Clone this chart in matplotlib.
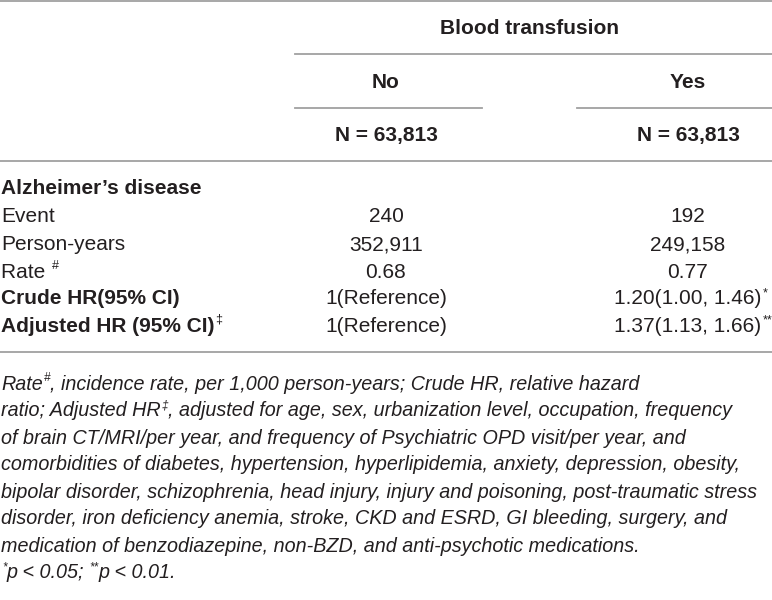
import matplotlib
matplotlib.use("Agg")
import matplotlib.pyplot as plt
from matplotlib.lines import Line2D

W, H = 772, 600
FONT = ["Liberation Sans Narrow", "Liberation Sans", "DejaVu Sans"]
TXT = "#231f20"
RULE = "#a0a0a0"

group_title = "Blood transfusion"
col_names = ["No", "Yes"]
col_n = ["N = 63,813", "N = 63,813"]
section = "Alzheimer\u2019s disease"
row_labels = ["Event", "Person-years", "Rate", "Crude HR(95% CI)", "Adjusted HR (95% CI)"]
row_sups = ["", "", "#", "", "\u2021"]
row_bold = [False, False, False, True, True]
no_values = ["240", "352,911", "0.68", "1(Reference)", "1(Reference)"]
yes_values = ["192", "249,158", "0.77", "1.20(1.00, 1.46)", "1.37(1.13, 1.66)"]
yes_sups = ["", "", "", "*", "**"]

footnote = [
    ("Rate", "#", ", incidence rate, per 1,000 person-years; Crude HR, relative hazard"),
    ("ratio; Adjusted HR", "\u2021", ", adjusted for age, sex, urbanization level, occupation, frequency"),
    ("of brain CT/MRI/per year, and frequency of Psychiatric OPD visit/per year, and", "", ""),
    ("comorbidities of diabetes, hypertension, hyperlipidemia, anxiety, depression, obesity,", "", ""),
    ("bipolar disorder, schizophrenia, head injury, injury and poisoning, post-traumatic stress", "", ""),
    ("disorder, iron deficiency anemia, stroke, CKD and ESRD, GI bleeding, surgery, and", "", ""),
    ("medication of benzodiazepine, non-BZD, and anti-psychotic medications.", "", ""),
    ("", "*", "p < 0.05; "),
]

BODY = 15.0
FOOT = 14.2

fig = plt.figure(figsize=(W / 100, H / 100), dpi=100)
renderer = fig.canvas.get_renderer()


def fx(x):
    return x / W


def fy(y):
    return 1 - y / H


def hline(x0, x1, y):
    fig.add_artist(Line2D([fx(x0), fx(x1)], [fy(y), fy(y)], color=RULE, lw=1.3))


def put(x, y, s, ha="left", size=BODY, weight="normal", style="normal"):
    t = fig.text(fx(x), fy(y), s, ha=ha, va="center", fontsize=size,
                 fontweight=weight, fontstyle=style, family=FONT, color=TXT)
    return t.get_window_extent(renderer)


def sup(x0, y, s, size=9, style="normal"):
    # x0 in display pixels, y in reference pixels
    t = fig.text(x0 / W, fy(y - 6), s, ha="left", va="center", fontsize=size,
                 fontstyle=style, family=FONT, color=TXT)
    return t.get_window_extent(renderer)


col_x = [386, 688]

# header
hline(0, W, 1)
put(530, 28, group_title, ha="center", weight="bold")
hline(295, W, 54)
for cx, name in zip(col_x, col_names):
    put(cx, 82, name, ha="center", weight="bold")
hline(295, 482, 108)
hline(577, W, 108)
for cx, n in zip(col_x, col_n):
    put(cx, 135, n, ha="center", weight="bold")
hline(0, W, 161)

# body
put(1, 189, section, weight="bold")
row_y = [217, 245, 272, 299, 326]
for i, lab in enumerate(row_labels):
    y = row_y[i]
    ext = put(1, y, lab + (" " if row_sups[i] == "#" else ""),
              weight="bold" if row_bold[i] else "normal")
    if row_sups[i]:
        sup(ext.x1 + 1, y, row_sups[i])
    put(col_x[0], y, no_values[i], ha="center")
    ext = put(col_x[1], y, yes_values[i], ha="center")
    if yes_sups[i]:
        sup(ext.x1 + 1, y, yes_sups[i])
hline(0, W, 352)

# footnote
foot_y = 384
for a, s, b in footnote:
    x = 1
    if a:
        ext = put(x, foot_y, a, size=FOOT, style="italic")
        x = ext.x1
    if s:
        ext = sup(x + 1, foot_y, s, size=8.5, style="italic")
        x = ext.x1
    if b:
        put(x, foot_y, b, size=FOOT, style="italic")
    foot_y += 27

# "**p < 0.01." on the last line
last = fig.texts[-1].get_window_extent(renderer)
ext = sup(last.x1, foot_y - 27, "**", size=8.5, style="italic")
put(ext.x1, foot_y - 27, "p < 0.01.", size=FOOT, style="italic")

fig.savefig("out.png", dpi=100)
